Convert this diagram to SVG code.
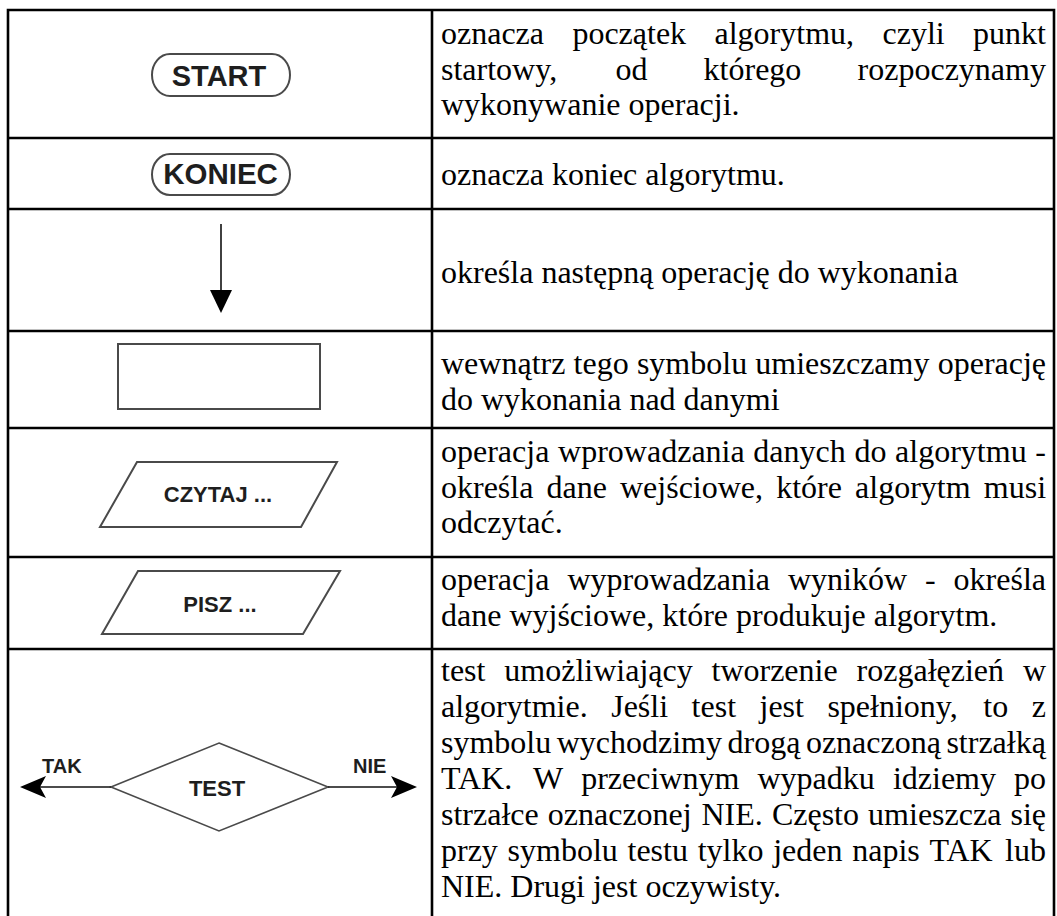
<svg xmlns="http://www.w3.org/2000/svg" width="1057" height="916" viewBox="0 0 1057 916">
<style>
.grid{stroke:#000;stroke-width:2.6;fill:none}
.desc{font-family:"Liberation Serif","Times New Roman",serif;font-size:32px;fill:#000}
.lbl{font-family:"Liberation Sans",Arial,sans-serif;font-weight:bold;fill:#1e1e1e}
.shape{fill:#fff;stroke:#4a4a4a;stroke-width:2}
.conn{stroke:#111;stroke-width:1.6;fill:none}
.head{fill:#000}
</style>
<rect width="1057" height="916" fill="#fff"/>
<g id="table">
<path class="grid" d="M8,918 V10 H1054 V918 M432,10 V918 M8,138 H1054 M8,209 H1054 M8,331 H1054 M8,428 H1054 M8,557 H1054 M8,649 H1054"/>
</g>
<g id="node-start">
<rect class="shape" x="152" y="54" width="138" height="42" rx="18" ry="21"/>
<text class="lbl" x="219" y="86" font-size="29" text-anchor="middle">START</text>
</g>
<g id="node-koniec">
<rect class="shape" x="152" y="154" width="138" height="41" rx="18" ry="20.5"/>
<text class="lbl" x="220.5" y="184" font-size="29.5" text-anchor="middle">KONIEC</text>
</g>
<g id="node-process">
<rect class="shape" x="118" y="344" width="202" height="65"/>
</g>
<g id="node-czytaj">
<polygon class="shape" points="137,462 337,462 301,527 100,527"/>
<text class="lbl" x="218" y="502" font-size="22" text-anchor="middle">CZYTAJ ...</text>
</g>
<g id="node-pisz">
<polygon class="shape" points="138,571 340,571 303,634 102,634"/>
<text class="lbl" x="220" y="612" font-size="22" text-anchor="middle">PISZ ...</text>
</g>
<g id="node-test">
<polygon class="shape" style="stroke-width:1.6" points="219,743 328,787 219,831 111,787"/>
<text class="lbl" x="217" y="796" font-size="22" text-anchor="middle">TEST</text>
<text class="lbl" x="42" y="773" font-size="20">TAK</text>
<text class="lbl" x="353" y="773" font-size="20">NIE</text>
</g>
<g id="connectors">
<line class="conn" x1="221" y1="224" x2="221" y2="294"/>
<polygon class="head" points="210,290 232,290 221,313"/>
<line class="conn" x1="111" y1="787" x2="40" y2="787"/>
<path class="head" d="M20,787 L46,776 L40,787 L46,798 Z"/>
<line class="conn" x1="328" y1="787" x2="398" y2="787"/>
<path class="head" d="M417,787 L391,776 L397,787 L391,798 Z"/>
</g>
<g id="descriptions" class="desc">
<text y="44"><tspan x="441">oznacza</tspan><tspan x="572.4">początek</tspan><tspan x="714.5">algorytmu,</tspan><tspan x="882.5">czyli</tspan><tspan x="973.1">punkt</tspan></text>
<text y="79.5"><tspan x="441">startowy,</tspan><tspan x="615.4">od</tspan><tspan x="703.6">którego</tspan><tspan x="857.6">rozpoczynamy</tspan></text>
<text x="441" y="115">wykonywanie operacji.</text>
<text x="441" y="185">oznacza koniec algorytmu.</text>
<text x="441" y="283">określa następną operację do wykonania</text>
<text y="374"><tspan x="441">wewnątrz</tspan><tspan x="573.6">tego</tspan><tspan x="636.9">symbolu</tspan><tspan x="755.3">umieszczamy</tspan><tspan x="937.7">operację</tspan></text>
<text x="441" y="409.5">do wykonania nad danymi</text>
<text y="462"><tspan x="441">operacja</tspan><tspan x="558.1">wprowadzania</tspan><tspan x="753.3">danych</tspan><tspan x="854.4">do</tspan><tspan x="895.1">algorytmu</tspan><tspan x="1035.3">-</tspan></text>
<text y="497.5"><tspan x="441">określa</tspan><tspan x="546.5">dane</tspan><tspan x="620">wejściowe,</tspan><tspan x="776.2">które</tspan><tspan x="855.1">algorytm</tspan><tspan x="983.8">musi</tspan></text>
<text x="441" y="533">odczytać.</text>
<text y="590"><tspan x="441">operacja</tspan><tspan x="567.4">wyprowadzania</tspan><tspan x="787.9">wyników</tspan><tspan x="925">-</tspan><tspan x="953.6">określa</tspan></text>
<text x="441" y="625.5">dane wyjściowe, które produkuje algorytm.</text>
<text y="681"><tspan x="441">test</tspan><tspan x="504.3">umożliwiający</tspan><tspan x="711.5">tworzenie</tspan><tspan x="856.6">rozgałęzień</tspan><tspan x="1022.9">w</tspan></text>
<text y="717"><tspan x="441">algorytmie.</tspan><tspan x="611.2">Jeśli</tspan><tspan x="691.6">test</tspan><tspan x="759.5">jest</tspan><tspan x="827.4">spełniony,</tspan><tspan x="983.3">to</tspan><tspan x="1031.7">z</tspan></text>
<text y="753"><tspan x="441">symbolu</tspan><tspan x="556.7">wychodzimy</tspan><tspan x="727.5">drogą</tspan><tspan x="805.9">oznaczoną</tspan><tspan x="946.4">strzałką</tspan></text>
<text y="789"><tspan x="441">TAK.</tspan><tspan x="532.9">W</tspan><tspan x="581.2">przeciwnym</tspan><tspan x="757.5">wypadku</tspan><tspan x="892.9">idziemy</tspan><tspan x="1014.1">po</tspan></text>
<text y="825"><tspan x="441">strzałce</tspan><tspan x="547.8">oznaczonej</tspan><tspan x="701.5">NIE.</tspan><tspan x="771.9">Często</tspan><tspan x="868.1">umieszcza</tspan><tspan x="1010.5">się</tspan></text>
<text y="861"><tspan x="441">przy</tspan><tspan x="507.6">symbolu</tspan><tspan x="627.5">testu</tspan><tspan x="697.7">tylko</tspan><tspan x="773.2">jeden</tspan><tspan x="852.2">napis</tspan><tspan x="929.5">TAK</tspan><tspan x="1005.1">lub</tspan></text>
<text x="441" y="897">NIE. Drugi jest oczywisty.</text>
</g>
</svg>
